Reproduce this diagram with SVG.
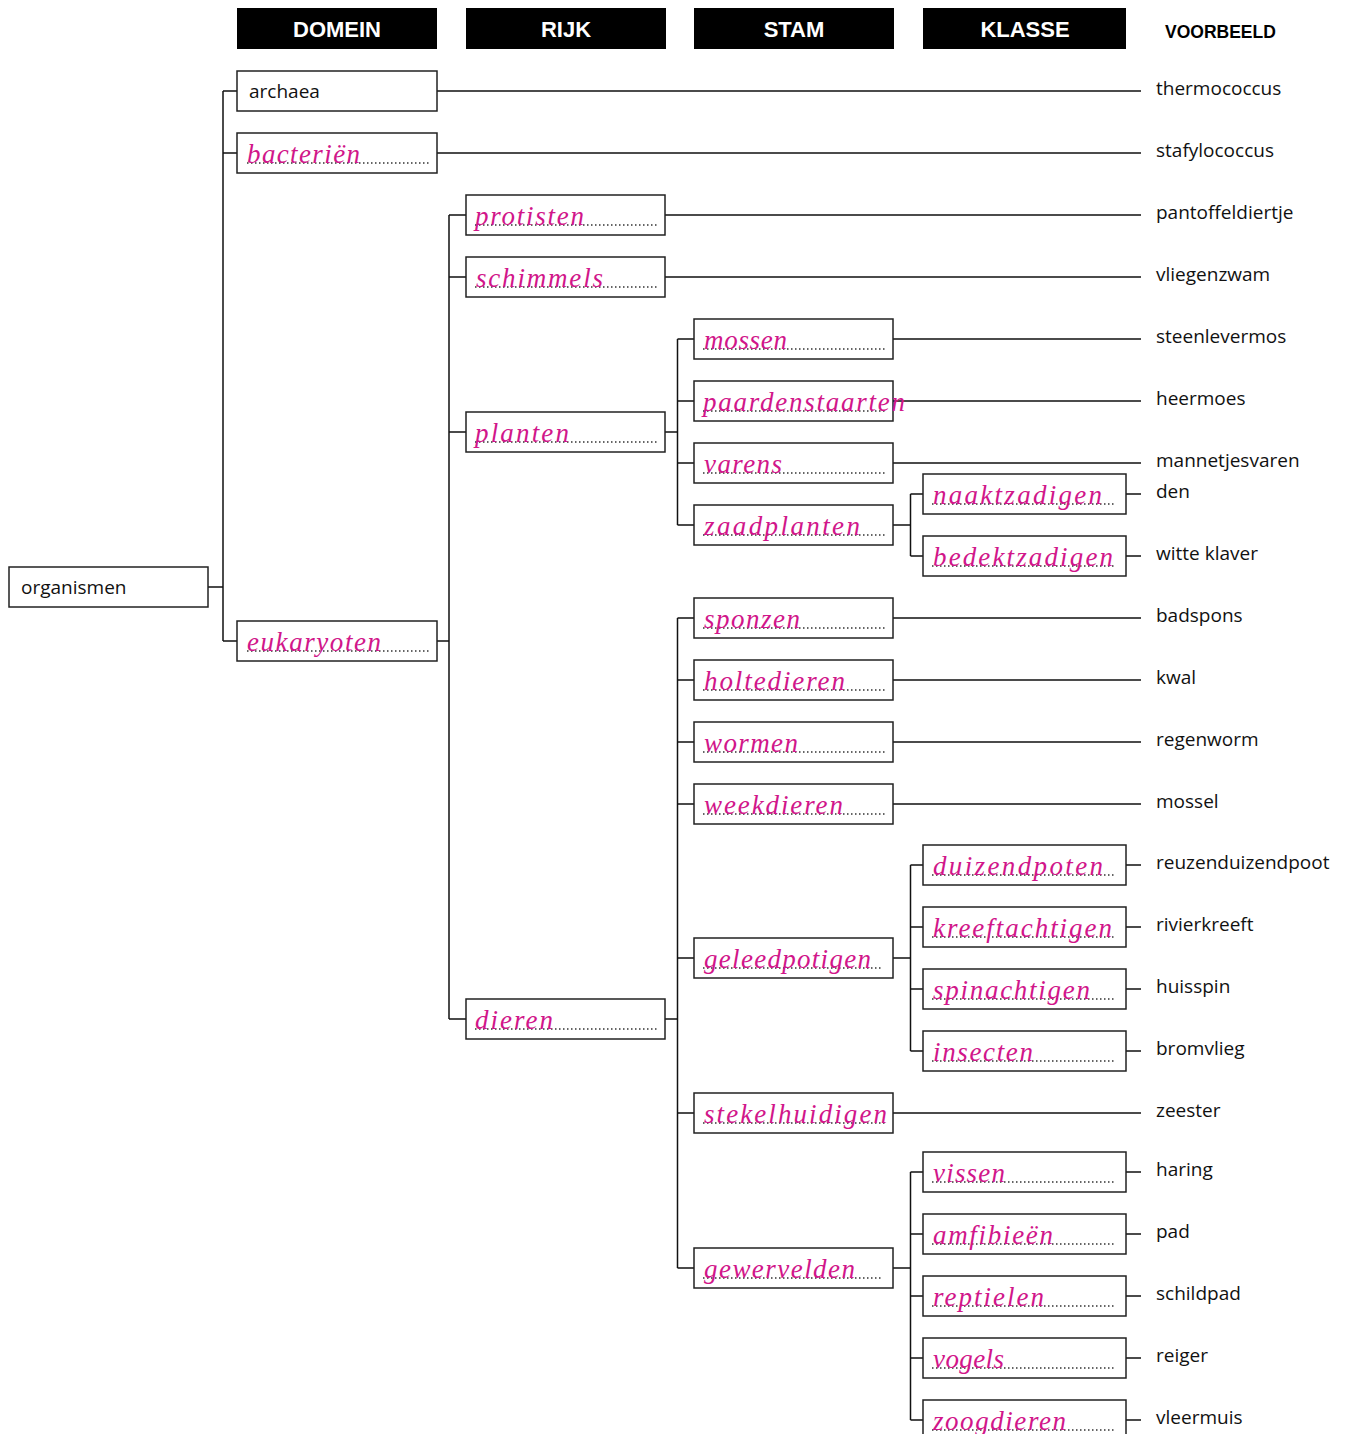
<svg xmlns="http://www.w3.org/2000/svg" width="1345" height="1434" viewBox="0 0 1345 1434">
<style>
.bg{fill:#fff}
.hdr{fill:#000}
.ht{font-family:"Liberation Sans",Arial,sans-serif;font-weight:bold;font-size:22px;fill:#fff;text-anchor:middle}
.vb{font-family:"Liberation Sans",Arial,sans-serif;font-weight:bold;font-size:17.5px;fill:#000}
.box{fill:#fff;stroke:#222;stroke-width:1.5}
.pt{font-family:"Open Sans","Noto Sans",sans-serif;font-size:19px;fill:#111}
.hw{font-family:"Liberation Serif","DejaVu Serif",serif;font-style:italic;font-size:27px;fill:#d1168a}
.lead{stroke:#333;stroke-width:1.5;stroke-dasharray:1.5 2.5;fill:none}
.ex{font-family:"Open Sans","Noto Sans",sans-serif;font-size:19px;fill:#111}
.conn path{fill:none;stroke:#111;stroke-width:1.5}
</style>
<rect class="bg" x="0" y="0" width="1345" height="1434"/>

<g id="headers">
<rect class="hdr" x="237" y="8" width="200" height="41"/><text class="ht" x="337" y="37">DOMEIN</text>
<rect class="hdr" x="466" y="8" width="200" height="41"/><text class="ht" x="566" y="37">RIJK</text>
<rect class="hdr" x="694" y="8" width="200" height="41"/><text class="ht" x="794" y="37">STAM</text>
<rect class="hdr" x="923" y="8" width="203" height="41"/><text class="ht" x="1025" y="37">KLASSE</text>
<text class="vb" x="1165" y="38">VOORBEELD</text>
</g>

<g class="conn" id="connectors">
<path d="M208 587H223M223 91V641M223 91H237M223 153H237M223 641H237"/>
<path d="M437 641H449M449 215V1019M449 215H466M449 277H466M449 432H466M449 1019H466"/>
<path d="M665 432H677.5M677.5 339V525M677.5 339H694M677.5 401H694M677.5 463H694M677.5 525H694"/>
<path d="M665 1019H677.5M677.5 618V1268M677.5 618H694M677.5 680H694M677.5 742H694M677.5 804H694M677.5 958H694M677.5 1113H694M677.5 1268H694"/>
<path d="M893 525H910.5M910.5 494V556M910.5 494H923M910.5 556H923"/>
<path d="M893 958H910.5M910.5 865V1051M910.5 865H923M910.5 927H923M910.5 989H923M910.5 1051H923"/>
<path d="M893 1268H910.5M910.5 1172V1420M910.5 1172H923M910.5 1234H923M910.5 1296H923M910.5 1358H923M910.5 1420H923"/>
<path d="M437 91H1141M437 153H1141M665 215H1141M665 277H1141M893 339H1141M893 401H1141M893 463H1141M893 618H1141M893 680H1141M893 742H1141M893 804H1141M893 1113H1141"/>
<path d="M1126 494H1141M1126 556H1141M1126 865H1141M1126 927H1141M1126 989H1141M1126 1051H1141M1126 1172H1141M1126 1234H1141M1126 1296H1141M1126 1358H1141M1126 1420H1141"/>
</g>

<g id="organismen"><rect class="box" x="9" y="567" width="199" height="40"/><text class="pt" x="21" y="594">organismen</text></g>
<g id="archaea"><rect class="box" x="237" y="71" width="200" height="40"/><text class="pt" x="249" y="98">archaea</text></g>
<g id="bacterien"><rect class="box" x="237" y="133" width="200" height="40"/><path class="lead" d="M247 163H431"/><text class="hw" x="247" y="163" textLength="113" lengthAdjust="spacing">bacteriën</text></g>
<g id="eukaryoten"><rect class="box" x="237" y="621" width="200" height="40"/><path class="lead" d="M247 651H431"/><text class="hw" x="247" y="651" textLength="134" lengthAdjust="spacing">eukaryoten</text></g>

<g id="protisten"><rect class="box" x="466" y="195" width="199" height="40"/><path class="lead" d="M475 225H658"/><text class="hw" x="475" y="225" textLength="109" lengthAdjust="spacing">protisten</text></g>
<g id="schimmels"><rect class="box" x="466" y="257" width="199" height="40"/><path class="lead" d="M475 287H658"/><text class="hw" x="476" y="287" textLength="127" lengthAdjust="spacing">schimmels</text></g>
<g id="planten"><rect class="box" x="466" y="412" width="199" height="40"/><path class="lead" d="M475 442H658"/><text class="hw" x="475" y="442" textLength="94" lengthAdjust="spacing">planten</text></g>
<g id="dieren"><rect class="box" x="466" y="999" width="199" height="40"/><path class="lead" d="M475 1029H658"/><text class="hw" x="475" y="1029" textLength="78" lengthAdjust="spacing">dieren</text></g>

<g id="mossen"><rect class="box" x="694" y="319" width="199" height="40"/><path class="lead" d="M703 349H886"/><text class="hw" x="704" y="349" textLength="83" lengthAdjust="spacing">mossen</text></g>
<g id="paardenstaarten"><rect class="box" x="694" y="381" width="199" height="40"/><path class="lead" d="M703 411H886"/><text class="hw" x="703" y="411" textLength="202" lengthAdjust="spacing">paardenstaarten</text></g>
<g id="varens"><rect class="box" x="694" y="443" width="199" height="40"/><path class="lead" d="M703 473H886"/><text class="hw" x="704" y="473" textLength="78" lengthAdjust="spacing">varens</text></g>
<g id="zaadplanten"><rect class="box" x="694" y="505" width="199" height="40"/><path class="lead" d="M703 535H886"/><text class="hw" x="704" y="535" textLength="156" lengthAdjust="spacing">zaadplanten</text></g>
<g id="sponzen"><rect class="box" x="694" y="598" width="199" height="40"/><path class="lead" d="M703 628H886"/><text class="hw" x="704" y="628" textLength="96" lengthAdjust="spacing">sponzen</text></g>
<g id="holtedieren"><rect class="box" x="694" y="660" width="199" height="40"/><path class="lead" d="M703 690H886"/><text class="hw" x="704" y="690" textLength="141" lengthAdjust="spacing">holtedieren</text></g>
<g id="wormen"><rect class="box" x="694" y="722" width="199" height="40"/><path class="lead" d="M703 752H886"/><text class="hw" x="704" y="752" textLength="94" lengthAdjust="spacing">wormen</text></g>
<g id="weekdieren"><rect class="box" x="694" y="784" width="199" height="40"/><path class="lead" d="M703 814H886"/><text class="hw" x="704" y="814" textLength="139" lengthAdjust="spacing">weekdieren</text></g>
<g id="geleedpotigen"><rect class="box" x="694" y="938" width="199" height="40"/><path class="lead" d="M703 968H882"/><text class="hw" x="704" y="968" textLength="167" lengthAdjust="spacing">geleedpotigen</text></g>
<g id="stekelhuidigen"><rect class="box" x="694" y="1093" width="199" height="40"/><path class="lead" d="M703 1123H886"/><text class="hw" x="704" y="1123" textLength="183" lengthAdjust="spacing">stekelhuidigen</text></g>
<g id="gewervelden"><rect class="box" x="694" y="1248" width="199" height="40"/><path class="lead" d="M703 1278H882"/><text class="hw" x="704" y="1278" textLength="151" lengthAdjust="spacing">gewervelden</text></g>

<g id="naaktzadigen"><rect class="box" x="923" y="474" width="203" height="40"/><path class="lead" d="M932 504H1116"/><text class="hw" x="933" y="504" textLength="169" lengthAdjust="spacing">naaktzadigen</text></g>
<g id="bedektzadigen"><rect class="box" x="923" y="536" width="203" height="40"/><path class="lead" d="M932 566H1116"/><text class="hw" x="933" y="566" textLength="180" lengthAdjust="spacing">bedektzadigen</text></g>
<g id="duizendpoten"><rect class="box" x="923" y="845" width="203" height="40"/><path class="lead" d="M932 875H1116"/><text class="hw" x="933" y="875" textLength="170" lengthAdjust="spacing">duizendpoten</text></g>
<g id="kreeftachtigen"><rect class="box" x="923" y="907" width="203" height="40"/><path class="lead" d="M932 937H1116"/><text class="hw" x="933" y="937" textLength="179" lengthAdjust="spacing">kreeftachtigen</text></g>
<g id="spinachtigen"><rect class="box" x="923" y="969" width="203" height="40"/><path class="lead" d="M932 999H1116"/><text class="hw" x="933" y="999" textLength="157" lengthAdjust="spacing">spinachtigen</text></g>
<g id="insecten"><rect class="box" x="923" y="1031" width="203" height="40"/><path class="lead" d="M932 1061H1116"/><text class="hw" x="933" y="1061" textLength="100" lengthAdjust="spacing">insecten</text></g>
<g id="vissen"><rect class="box" x="923" y="1152" width="203" height="40"/><path class="lead" d="M932 1182H1116"/><text class="hw" x="933" y="1182" textLength="72" lengthAdjust="spacing">vissen</text></g>
<g id="amfibieen"><rect class="box" x="923" y="1214" width="203" height="40"/><path class="lead" d="M932 1244H1116"/><text class="hw" x="933" y="1244" textLength="120" lengthAdjust="spacing">amfibieën</text></g>
<g id="reptielen"><rect class="box" x="923" y="1276" width="203" height="40"/><path class="lead" d="M932 1306H1116"/><text class="hw" x="933" y="1306" textLength="111" lengthAdjust="spacing">reptielen</text></g>
<g id="vogels"><rect class="box" x="923" y="1338" width="203" height="40"/><path class="lead" d="M932 1368H1116"/><text class="hw" x="933" y="1368" textLength="71" lengthAdjust="spacing">vogels</text></g>
<g id="zoogdieren"><rect class="box" x="923" y="1400" width="203" height="40"/><path class="lead" d="M932 1430H1116"/><text class="hw" x="933" y="1430" textLength="133" lengthAdjust="spacing">zoogdieren</text></g>

<g id="voorbeelden">
<text class="ex" x="1156" y="95">thermococcus</text>
<text class="ex" x="1156" y="157">stafylococcus</text>
<text class="ex" x="1156" y="219">pantoffeldiertje</text>
<text class="ex" x="1156" y="281">vliegenzwam</text>
<text class="ex" x="1156" y="343">steenlevermos</text>
<text class="ex" x="1156" y="405">heermoes</text>
<text class="ex" x="1156" y="467">mannetjesvaren</text>
<text class="ex" x="1156" y="498">den</text>
<text class="ex" x="1156" y="560">witte klaver</text>
<text class="ex" x="1156" y="622">badspons</text>
<text class="ex" x="1156" y="684">kwal</text>
<text class="ex" x="1156" y="746">regenworm</text>
<text class="ex" x="1156" y="808">mossel</text>
<text class="ex" x="1156" y="869">reuzenduizendpoot</text>
<text class="ex" x="1156" y="931">rivierkreeft</text>
<text class="ex" x="1156" y="993">huisspin</text>
<text class="ex" x="1156" y="1055">bromvlieg</text>
<text class="ex" x="1156" y="1117">zeester</text>
<text class="ex" x="1156" y="1176">haring</text>
<text class="ex" x="1156" y="1238">pad</text>
<text class="ex" x="1156" y="1300">schildpad</text>
<text class="ex" x="1156" y="1362">reiger</text>
<text class="ex" x="1156" y="1424">vleermuis</text>
</g>
</svg>
